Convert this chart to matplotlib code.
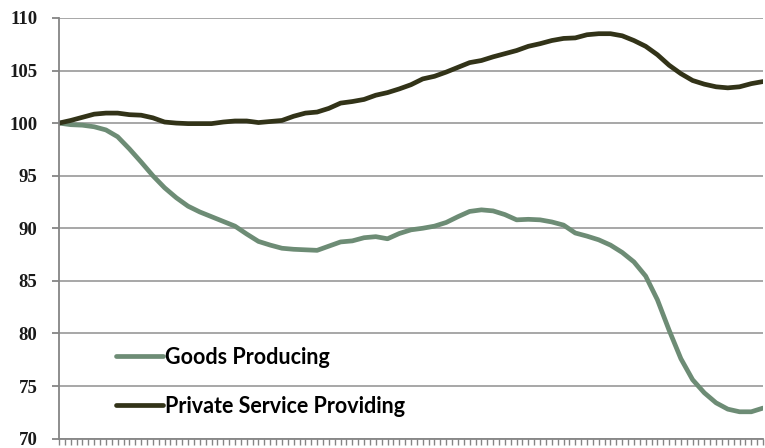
import numpy as np
import matplotlib
matplotlib.use('Agg')
import matplotlib.pyplot as plt

plt.rcParams['font.family'] = ['Liberation Serif', 'DejaVu Serif']
plt.rcParams['font.weight'] = 'bold'

# month index (every second month)
months = np.arange(0, 121, 2)

goods = [100.0, 99.85, 99.8, 99.65, 99.35, 98.7, 97.55, 96.3, 95.0, 93.85,
         92.9, 92.1, 91.55, 91.1, 90.65, 90.2, 89.45, 88.75, 88.4, 88.1,
         88.0, 87.95, 87.9, 88.3, 88.7, 88.8, 89.1, 89.2, 89.0, 89.5,
         89.85, 90.0, 90.2, 90.55, 91.1, 91.6, 91.75, 91.65, 91.3, 90.8,
         90.85, 90.8, 90.6, 90.3, 89.55, 89.25, 88.9, 88.4, 87.7, 86.8,
         85.45, 83.2, 80.3, 77.6, 75.6, 74.35, 73.4, 72.8, 72.55, 72.55,
         72.9]

services = [100.0, 100.25, 100.55, 100.85, 100.95, 100.95, 100.8, 100.75, 100.5, 100.1,
            100.0, 99.95, 99.95, 99.95, 100.1, 100.2, 100.2, 100.05, 100.15, 100.25,
            100.65, 100.95, 101.05, 101.4, 101.9, 102.05, 102.25, 102.65, 102.9, 103.25,
            103.65, 104.2, 104.45, 104.85, 105.3, 105.75, 105.95, 106.3, 106.6, 106.9,
            107.3, 107.55, 107.85, 108.05, 108.1, 108.4, 108.5, 108.5, 108.3, 107.85,
            107.3, 106.5, 105.5, 104.7, 104.05, 103.7, 103.45, 103.35, 103.45, 103.75,
            103.95]

yticks = [70, 75, 80, 85, 90, 95, 100, 105, 110]

fig = plt.figure(figsize=(7.65, 4.48), dpi=100)
ax = fig.add_axes([0.0771, 0.021, 0.9203, 0.939])

ax.plot(months, goods, color='#6D8C75', lw=3.4, label='Goods Producing', solid_capstyle='round')
ax.plot(months, services, color='#323318', lw=3.4, label='Private Service Providing', solid_capstyle='round')

ax.set_xlim(0, 120)
ax.set_ylim(70, 110)
ax.set_xticks(np.arange(0, 121, 1))
ax.set_xticklabels([])
ax.set_yticks(yticks)
ax.tick_params(axis='x', length=4, width=1, color='#858585')
ax.tick_params(axis='y', length=5, width=1.3, color='#858585', pad=10.5,
               labelsize=13.5, labelcolor='#1a1a1a')
ax.yaxis.grid(True, color='#A0A0A0', lw=1.3)
ax.set_axisbelow(True)

for s in ['top', 'right']:
    ax.spines[s].set_visible(False)
for s in ['left', 'bottom']:
    ax.spines[s].set_color('#858585')
    ax.spines[s].set_linewidth(1.3)

leg = ax.legend(loc='lower left', bbox_to_anchor=(0.081, 0.052), frameon=False,
                prop={'family': 'Lato', 'weight': 'bold', 'size': 15.5},
                handlelength=2.19, handletextpad=0.1, labelspacing=1.3,
                borderpad=0, borderaxespad=0)

fig.savefig('out.png', dpi=100)
